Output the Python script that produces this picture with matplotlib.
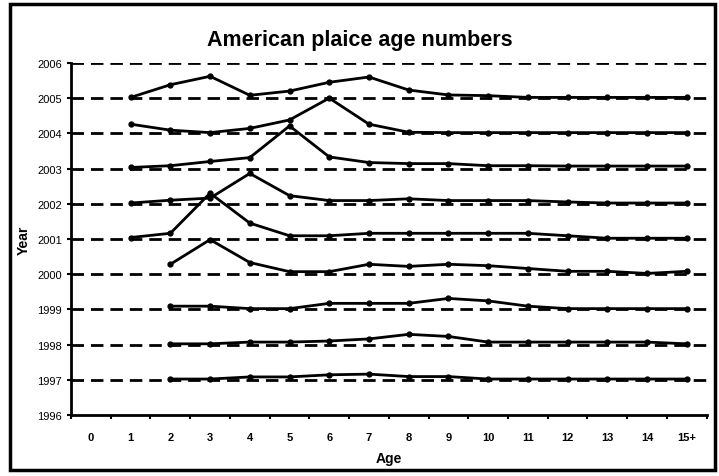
import numpy as np
import matplotlib.pyplot as plt
from matplotlib.patches import Rectangle

plt.rcParams['font.family'] = ['Liberation Sans', 'DejaVu Sans']

ages = ['0', '1', '2', '3', '4', '5', '6', '7', '8', '9', '10', '11', '12', '13', '14', '15+']
years = [1997, 1998, 1999, 2000, 2001, 2002, 2003, 2004, 2005]

# offset above the year line, one value per age (None = no data)
n = None
off_1997 = [n, n, 0.02, 0.02, 0.08, 0.08, 0.14, 0.16, 0.09, 0.09, 0.02, 0.02, 0.02, 0.02, 0.02, 0.02]
off_1998 = [n, n, 0.02, 0.02, 0.07, 0.07, 0.10, 0.16, 0.29, 0.23, 0.07, 0.07, 0.07, 0.07, 0.07, 0.02]
off_1999 = [n, n, 0.09, 0.09, 0.02, 0.02, 0.17, 0.17, 0.17, 0.31, 0.24, 0.09, 0.02, 0.02, 0.02, 0.02]
off_2000 = [n, n, 0.28, 0.98, 0.33, 0.07, 0.07, 0.28, 0.22, 0.28, 0.24, 0.16, 0.08, 0.08, 0.02, 0.08]
off_2001 = [n, 0.04, 0.16, 1.30, 0.45, 0.09, 0.09, 0.16, 0.16, 0.16, 0.16, 0.16, 0.09, 0.02, 0.02, 0.02]
off_2002 = [n, 0.02, 0.10, 0.16, 0.86, 0.23, 0.09, 0.09, 0.14, 0.09, 0.09, 0.09, 0.05, 0.02, 0.02, 0.02]
off_2003 = [n, 0.03, 0.08, 0.20, 0.31, 1.21, 0.33, 0.17, 0.14, 0.14, 0.08, 0.08, 0.07, 0.07, 0.07, 0.07]
off_2004 = [n, 0.26, 0.09, 0.02, 0.14, 0.38, 1.00, 0.26, 0.03, 0.02, 0.02, 0.02, 0.02, 0.02, 0.02, 0.02]
off_2005 = [n, 0.02, 0.38, 0.62, 0.08, 0.20, 0.45, 0.60, 0.23, 0.09, 0.07, 0.02, 0.02, 0.02, 0.02, 0.02]
offsets = [off_1997, off_1998, off_1999, off_2000, off_2001, off_2002, off_2003, off_2004, off_2005]

fig = plt.figure(figsize=(7.19, 4.77), dpi=100)
ax = fig.add_axes([0.0988, 0.128, 0.884, 0.738])

# outer frame
fig.patches.append(Rectangle((0.014, 0.012), 0.98, 0.977, transform=fig.transFigure,
                             fill=False, edgecolor='black', linewidth=2.5))

x = np.arange(len(ages))
for yr, off in zip(years, offsets):
    yv = np.array([np.nan if v is None else yr + v for v in off])
    ax.plot(x, yv, color='black', lw=2, marker='o', ms=3.5, zorder=3)

for yr in range(1997, 2007):
    ax.axhline(yr, color='black', lw=2, ls=(0, (4.5, 2.5)), zorder=1)

ax.set_xlim(-0.5, 15.5)
ax.set_ylim(1996, 2006)
ax.set_xticks(x)
ax.set_xticklabels(ages, fontsize=8, fontweight='bold')
ax.set_xticks(np.arange(-0.5, 16, 1), minor=True)
ax.tick_params(axis='x', which='major', length=0, pad=12)
ax.tick_params(axis='x', which='minor', length=3, width=1.5)
ax.set_yticks(range(1996, 2007))
ax.tick_params(axis='y', length=3, width=1.5, labelsize=8)

for s in ['top', 'right']:
    ax.spines[s].set_visible(False)
for s in ['left', 'bottom']:
    ax.spines[s].set_linewidth(2)

ax.set_xlabel('Age', fontsize=10, fontweight='bold', labelpad=7)
ax.set_ylabel('Year', fontsize=10, fontweight='bold', labelpad=5)
fig.text(0.5, 0.915, 'American plaice age numbers', ha='center', va='center',
         fontsize=15.5, fontweight='bold')

fig.savefig('out.png', dpi=100)
